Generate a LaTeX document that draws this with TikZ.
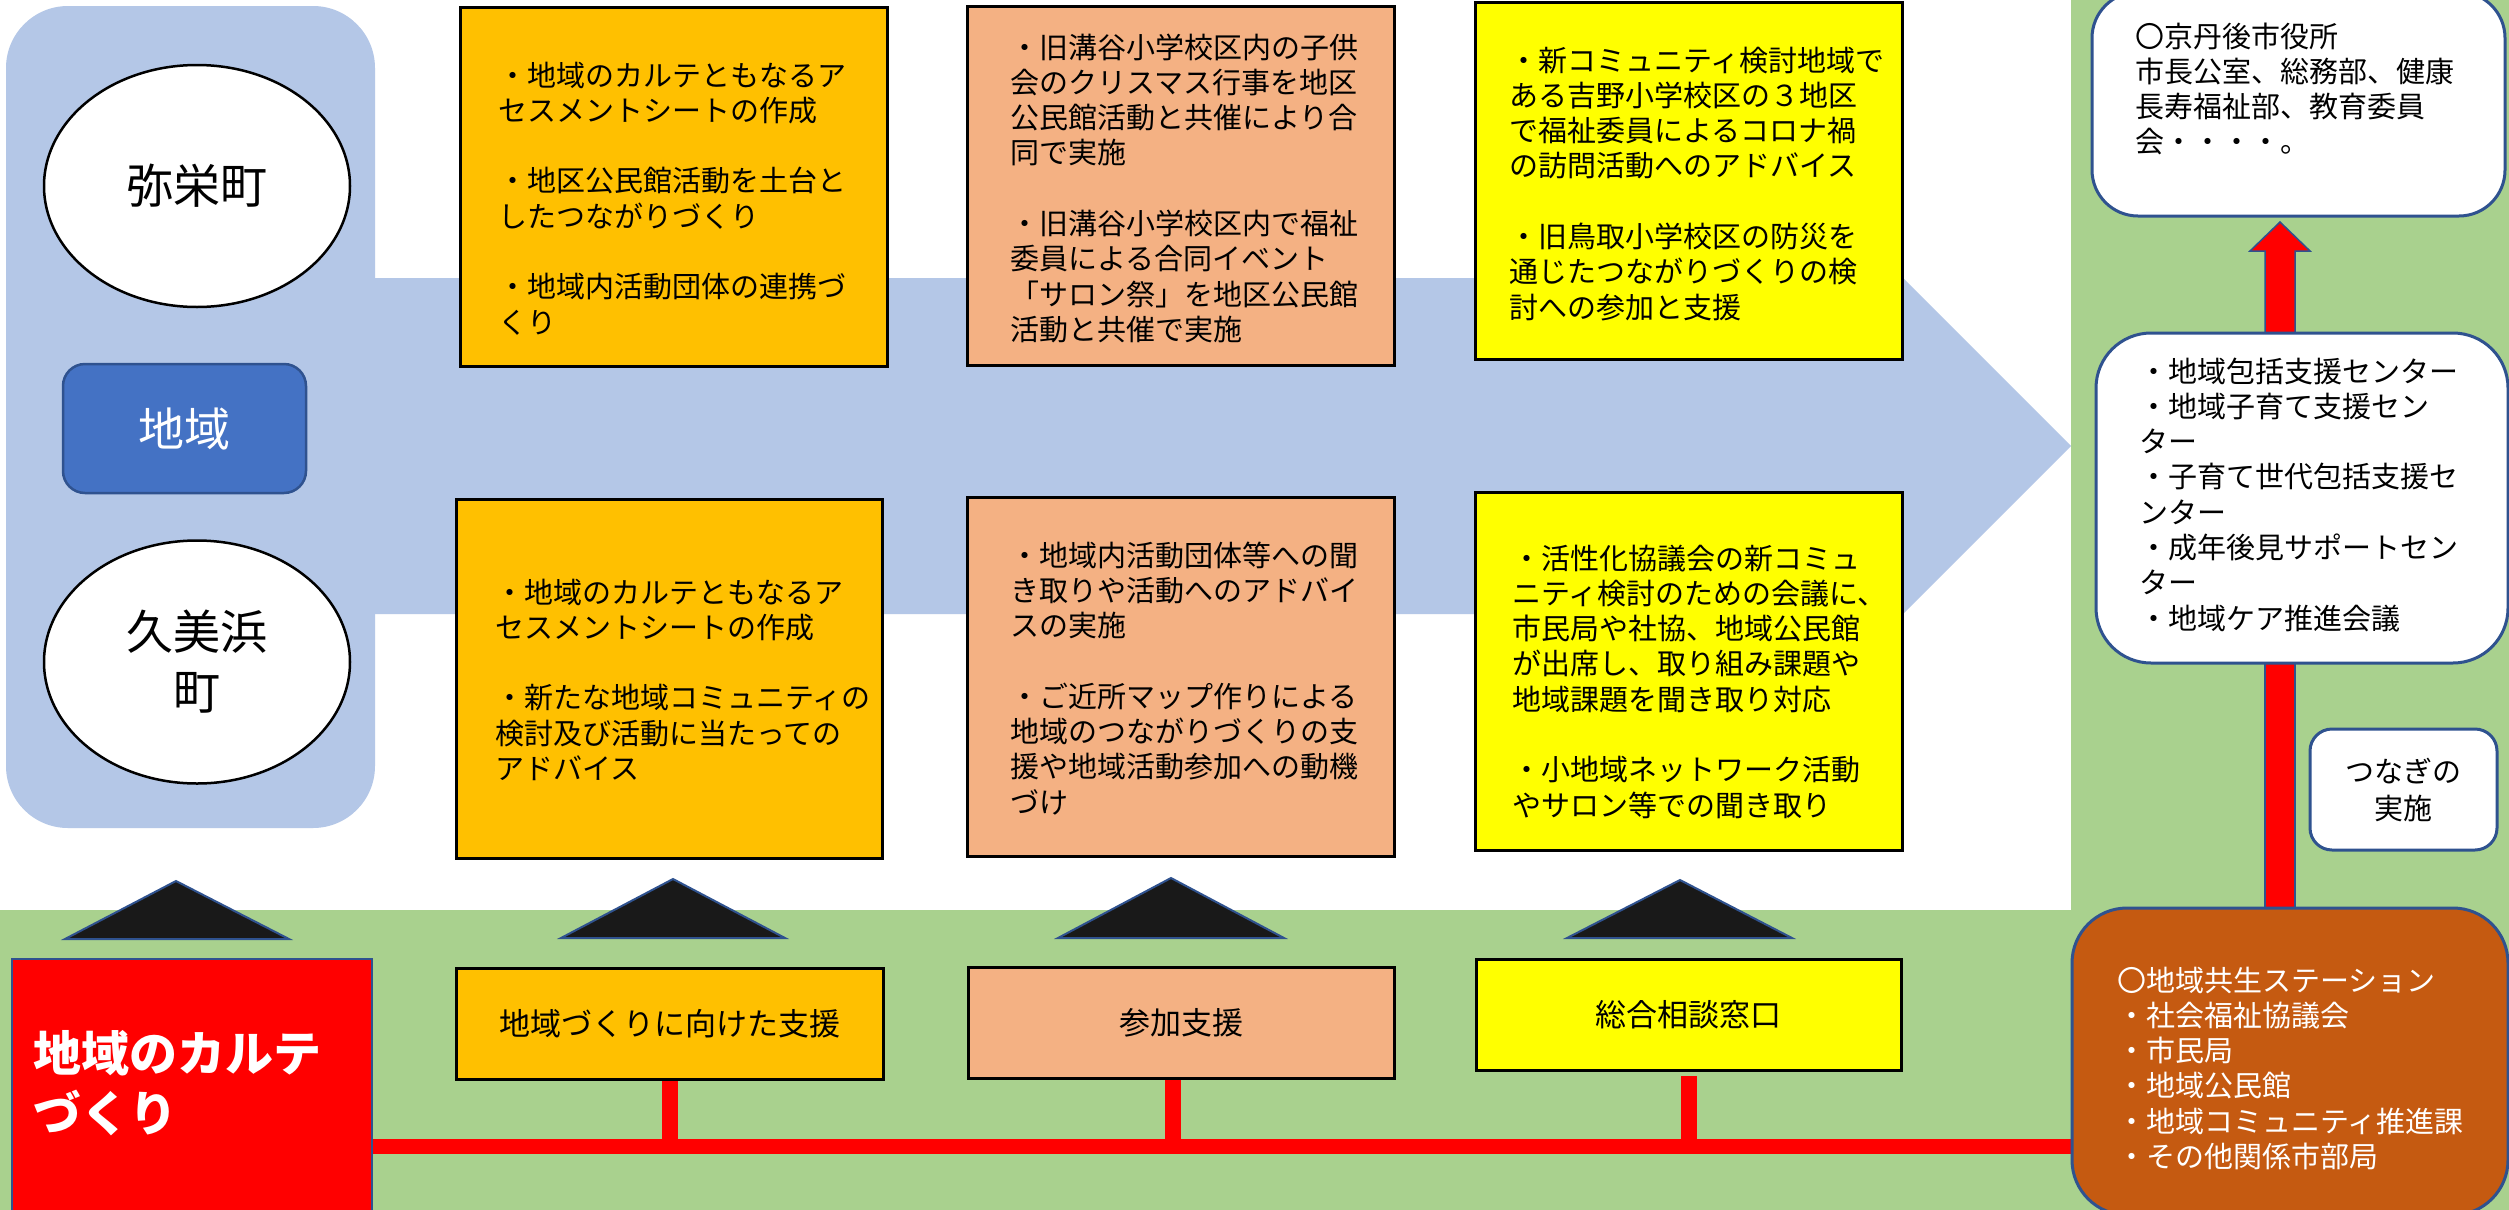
\documentclass[tikz,border=0pt]{standalone}
\usepackage{fontspec}
\setmainfont{Noto Sans CJK JP}
\usetikzlibrary{shapes.geometric,calc}
\definecolor{lblue}{HTML}{B4C7E7}
\definecolor{lgreen}{HTML}{A9D18E}
\definecolor{orng}{HTML}{FFC000}
\definecolor{salm}{HTML}{F4B183}
\definecolor{yel}{HTML}{FFFF00}
\definecolor{mblue}{HTML}{4472C4}
\definecolor{dblue}{HTML}{2F528F}
\definecolor{brwn}{HTML}{C55A11}
\definecolor{trifill}{HTML}{191919}
\newcommand\fs[2]{\fontsize{#1}{#2}\selectfont}
\pgfdeclarelayer{back}
\pgfdeclarelayer{mid}
\pgfsetlayers{back,mid,main}
\begin{document}
\begin{tikzpicture}[x=1pt,y=-1pt,
  every node/.style={inner sep=0pt, outer sep=0pt},
  sq/.style={rectangle, draw=black, line width=3pt},
  rbox/.style={rectangle, rounded corners=#1, draw=dblue, line width=3pt},
  ell/.style={ellipse, draw=black, line width=2.5pt, fill=white},
  txt/.style={anchor=base west, text width=430pt, align=left, font=\fs{29}{35.3}},
  trishape/.style={fill=trifill, draw=dblue, line width=2pt, line join=miter},
  redbar/.style={draw=red, line width=#1},
  arrowbody/.style={fill=red, draw=dblue, line width=1.5pt}]
\useasboundingbox (0,0) rectangle (2509,1210);

% ---------- background ----------
\begin{pgfonlayer}{back}
\fill[white] (0,0) rectangle (2509,1210);
\fill[lgreen] (2071,0) rectangle (2509,910);
\fill[lgreen] (0,910) rectangle (2509,1210);
\fill[lblue, rounded corners=62] (6,6) rectangle (375,828);
\fill[lblue] (370,278) -- (1903,278) -- (2071,446) -- (1903,614) -- (370,614) -- cycle;
\end{pgfonlayer}

% ---------- left column ----------
\node[ell, minimum width=306, minimum height=242, font=\fs{47}{60}] (yasa) at (197,186) {弥栄町};
\node[ell, minimum width=306, minimum height=243, font=\fs{47}{60}, align=center] (kumi) at (197,662) {久美浜\\町};
\node[rbox=22, fill=mblue, line width=2.5pt, minimum width=243, minimum height=129, text=white, font=\fs{46}{56}] (area) at (184.5,428.5) {地域};

% ---------- upper / lower boxes ----------
\node[sq, fill=orng, minimum width=427, minimum height=359] (o1) at (673.5,186.5) {};
\node[sq, fill=orng, minimum width=426, minimum height=359] (o2) at (669,678.5) {};
\node[sq, fill=salm, minimum width=427, minimum height=359] (s1) at (1180.5,185.5) {};
\node[sq, fill=salm, minimum width=427, minimum height=359] (s2) at (1180.5,676.5) {};
\node[sq, fill=yel, minimum width=427, minimum height=357] (y1) at (1688.5,180.5) {};
\node[sq, fill=yel, minimum width=427, minimum height=358] (y2) at (1688.5,671) {};

\node[txt] (to1) at (498,86) {・地域のカルテともなるア\\セスメントシートの作成\\[35.3pt]・地区公民館活動を土台と\\したつながりづくり\\[35.3pt]・地域内活動団体の連携づ\\くり};
\node[txt] (to2) at (495,603) {・地域のカルテともなるア\\セスメントシートの作成\\[35.3pt]・新たな地域コミュニティの\\検討及び活動に当たっての\\アドバイス};
\node[txt] (ts1) at (1010,58) {・旧溝谷小学校区内の子供\\会のクリスマス行事を地区\\公民館活動と共催により合\\同で実施\\[35.3pt]・旧溝谷小学校区内で福祉\\委員による合同イベント\\「サロン祭」を地区公民館\\活動と共催で実施};
\node[txt] (ts2) at (1010,566) {・地域内活動団体等への聞\\き取りや活動へのアドバイ\\スの実施\\[35.3pt]・ご近所マップ作りによる\\地域のつながりづくりの支\\援や地域活動参加への動機\\づけ};
\node[txt] (ty1) at (1509,71) {・新コミュニティ検討地域で\\ある吉野小学校区の３地区\\で福祉委員によるコロナ禍\\の訪問活動へのアドバイス\\[35.3pt]・旧鳥取小学校区の防災を\\通じたつながりづくりの検\\討への参加と支援};
\node[txt] (ty2) at (1512,569) {・活性化協議会の新コミュ\\ニティ検討のための会議に、\\市民局や社協、地域公民館\\が出席し、取り組み課題や\\地域課題を聞き取り対応\\[35.3pt]・小地域ネットワーク活動\\やサロン等での聞き取り};

% ---------- bottom row ----------
\node[rectangle, fill=red, draw=dblue, line width=2pt, minimum width=360, minimum height=261] (kart) at (192,1089.5) {};
\node[anchor=base west, text width=340pt, align=left, font=\fs{48}{60}\bfseries, text=white] (tkart) at (33,1071) {地域のカルテ\\づくり};
\node[sq, fill=orng, minimum width=427, minimum height=111, font=\fs{31}{37}] (b1) at (669.5,1023.5) {地域づくりに向けた支援};
\node[sq, fill=salm, minimum width=426, minimum height=111, font=\fs{31}{37}] (b2) at (1181,1022.5) {参加支援};
\node[sq, fill=yel, minimum width=425, minimum height=111, font=\fs{31}{37}] (b3) at (1688.5,1014.5) {総合相談窓口};

% triangles
\draw[trishape] (65,939) -- (176,881) -- (289,939) -- cycle;
\draw[trishape] (561,938) -- (673,879) -- (785,938) -- cycle;
\draw[trishape] (1058,938) -- (1171,878) -- (1284,938) -- cycle;
\draw[trishape] (1567,938) -- (1680,880) -- (1792,938) -- cycle;

% ---------- right column ----------
\node[rbox=46, fill=white, minimum width=413, minimum height=224] (city) at (2298.5,104) {};
\node[txt] (tcity) at (2135,47) {〇京丹後市役所\\市長公室、総務部、健康\\長寿福祉部、教育委員\\会・・・・。};
\node[rbox=55, fill=white, minimum width=412, minimum height=330] (midb) at (2302,498) {};
\node[txt] (tmid) at (2139,382) {・地域包括支援センター\\・地域子育て支援セン\\ター\\・子育て世代包括支援セ\\ンター\\・成年後見サポートセン\\ター\\・地域ケア推進会議};
\node[rbox=22, fill=white, minimum width=187, minimum height=121, align=center, font=\fs{29}{37}] (tsun) at (2403.5,789.5) {つなぎの\\実施};
\node[rbox=55, fill=brwn, minimum width=436, minimum height=307] (stn) at (2290,1061.5) {};
\node[txt, text=white] (tstn) at (2117,991) {〇地域共生ステーション\\・社会福祉協議会\\・市民局\\・地域公民館\\・地域コミュニティ推進課\\・その他関係市部局};

% ---------- connectors ----------
\coordinate (busY) at (0,1146.5);
\coordinate (sx) at (2280,0);
\begin{pgfonlayer}{mid}
\draw[redbar=15pt] (kart.east |- busY) -- (stn.west |- busY);
\draw[redbar=16pt] (b1.south) -- (b1.south |- busY);
\draw[redbar=16pt] ([xshift=-8pt]b2.south) -- ([xshift=-8pt]b2.south |- busY);
\draw[redbar=16pt] ([yshift=-6pt]b3.south) -- (b3.south |- busY);
\draw[arrowbody] ($(sx |- midb.south)+(-15,0)$) rectangle ($(sx |- stn.north)+(15,2)$);
\draw[arrowbody] ($(sx |- midb.north)+(-15,0)$) -- ($(sx |- city.south)+(-15,35)$) -- ($(sx |- city.south)+(-30,35)$) -- ($(sx |- city.south)+(0,6)$) -- ($(sx |- city.south)+(30,35)$) -- ($(sx |- city.south)+(15,35)$) -- ($(sx |- midb.north)+(15,0)$) -- cycle;
\end{pgfonlayer}
\end{tikzpicture}
\end{document}
